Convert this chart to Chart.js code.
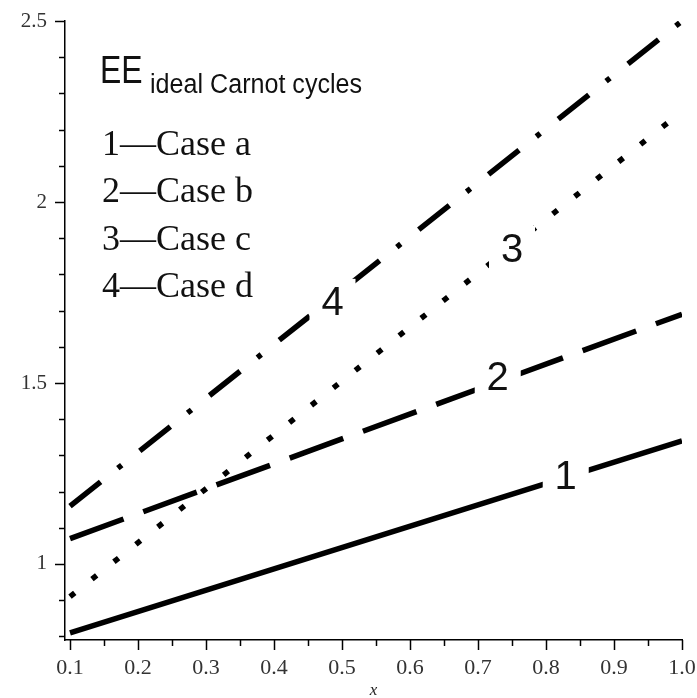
<!DOCTYPE html>
<html>
<head>
<meta charset="utf-8">
<script src="https://cdn.jsdelivr.net/npm/chart.js@4.4.0/dist/chart.umd.min.js"></script>
<style>
  html, body { margin: 0; padding: 0; background: #fff; }
</style>
</head>
<body>
<canvas id="eeChart" width="697" height="698"></canvas>
<script>
// Values
var xValues = [0.1, 1.0];
var caseA = [0.81, 1.34];
var caseB = [1.07, 1.69];
var caseC = [0.91, 2.25];
var caseD = [1.16, 2.50];
var caseNames = ['Case a', 'Case b', 'Case c', 'Case d'];

// where the curve numbers sit (data coords)
var tagX = [0.829, 0.729, 0.75, 0.486];
var tagY = [1.246, 1.519, 1.873, 1.727];

function points(ys) {
  return xValues.map(function(x, i) { return {x: x, y: ys[i]}; });
}

function lineSet(ys, dash) {
  return {
    data: points(ys),
    borderColor: '#000',
    borderWidth: 5.5,
    borderDash: dash,
    borderCapStyle: 'butt',
    pointRadius: 0,
    fill: false,
    tension: 0
  };
}

// Axis ticks, long for labelled ones, short for the rest
var tickMarks = {
  id: 'tickMarks',
  afterDraw: function(chart) {
    var ctx = chart.ctx;
    var xs = chart.scales.x, ys = chart.scales.y;
    ctx.save();
    ctx.strokeStyle = '#000';
    ctx.lineWidth = 1.5;
    xs.ticks.forEach(function(t) {
      var px = Math.round(xs.getPixelForValue(t.value)) + 0.5;
      var len = t.label ? 10 : 6;
      ctx.beginPath();
      ctx.moveTo(px, xs.top);
      ctx.lineTo(px, xs.top + len);
      ctx.stroke();
    });
    ys.ticks.forEach(function(t) {
      var py = Math.round(ys.getPixelForValue(t.value)) + 0.5;
      var len = t.label ? 10 : 6;
      ctx.beginPath();
      ctx.moveTo(ys.right, py);
      ctx.lineTo(ys.right - len, py);
      ctx.stroke();
    });
    // axis title
    ctx.fillStyle = '#222';
    ctx.font = 'italic 17px "Liberation Serif"';
    ctx.textAlign = 'center';
    ctx.textBaseline = 'alphabetic';
    ctx.fillText('x', (chart.chartArea.left + chart.chartArea.right) / 2, 695);
    ctx.restore();
  }
};

// Curve numbers on white patches
var curveTags = {
  id: 'curveTags',
  afterDatasetsDraw: function(chart) {
    var ctx = chart.ctx;
    var xs = chart.scales.x, ys = chart.scales.y;
    ctx.save();
    ctx.font = '40px "Liberation Sans"';
    ctx.textAlign = 'center';
    ctx.textBaseline = 'alphabetic';
    tagX.forEach(function(v, i) {
      var px = xs.getPixelForValue(v);
      var py = ys.getPixelForValue(tagY[i]);
      ctx.fillStyle = '#fff';
      ctx.fillRect(px - 23, py - 22, 46, 44);
      ctx.fillStyle = '#111';
      ctx.fillText(String(i + 1), px, py + 14);
    });
    ctx.restore();
  }
};

// Text key in the upper left
var keyText = {
  id: 'keyText',
  afterDraw: function(chart) {
    var ctx = chart.ctx;
    ctx.save();
    ctx.fillStyle = '#111';
    ctx.textAlign = 'left';
    ctx.textBaseline = 'alphabetic';

    ctx.save();
    ctx.translate(100, 83);
    ctx.scale(0.84, 1);
    ctx.font = '38px "Liberation Sans"';
    ctx.fillText('EE', 0, 0);
    ctx.restore();

    ctx.save();
    ctx.translate(150, 93);
    ctx.scale(0.93, 1);
    ctx.font = '27px "Liberation Sans"';
    ctx.fillText('ideal Carnot cycles', 0, 0);
    ctx.restore();

    ctx.font = '36px "Liberation Serif"';
    var base = [155, 202, 250, 297];
    caseNames.forEach(function(name, i) {
      ctx.fillText((i + 1) + '\u2014' + name, 102, base[i]);
    });
    ctx.restore();
  }
};

var ctx1 = document.getElementById('eeChart').getContext('2d');
var eeChart = new Chart(ctx1, {
  type: 'line',
  data: {
    datasets: [
      lineSet(caseA, []),
      lineSet(caseB, [57, 21]),
      lineSet(caseC, [6, 22]),
      lineSet(caseD, [39, 22, 5, 23])
    ]
  },
  options: {
    responsive: false,
    animation: false,
    devicePixelRatio: 1,
    layout: { padding: { top: 21, right: 15, left: 0, bottom: 0 } },
    plugins: {
      legend: { display: false },
      tooltip: { enabled: false }
    },
    scales: {
      x: {
        type: 'linear',
        min: 0.0926,
        max: 1.0,
        afterFit: function(s) {
          s.height = 58;
          s.paddingLeft = 0;
          s.paddingRight = 0;
        },
        grid: { drawOnChartArea: false, color: 'rgba(0,0,0,0)', tickLength: 10 },
        border: { color: '#000', width: 1.5 },
        ticks: {
          stepSize: 0.05,
          includeBounds: false,
          autoSkip: false,
          maxRotation: 0,
          padding: 5,
          color: '#333',
          font: { family: 'Liberation Serif', size: 22 },
          callback: function(value) {
            var v = Math.round(value * 100);
            return v % 10 === 0 ? (v / 100).toFixed(1) : '';
          }
        }
      },
      y: {
        type: 'linear',
        min: 0.79,
        max: 2.5,
        afterFit: function(s) {
          s.width = 65;
          s.paddingTop = 0;
          s.paddingBottom = 0;
        },
        grid: { drawOnChartArea: false, color: 'rgba(0,0,0,0)', tickLength: 10 },
        border: { color: '#000', width: 1.5 },
        ticks: {
          stepSize: 0.1,
          includeBounds: false,
          autoSkip: false,
          padding: 8,
          color: '#333',
          font: { family: 'Liberation Serif', size: 21 },
          callback: function(value) {
            var v = Math.round(value * 10);
            return v % 5 === 0 ? String(v / 10) : '';
          }
        }
      }
    }
  },
  plugins: [tickMarks, curveTags, keyText]
});
</script>
</body>
</html>
